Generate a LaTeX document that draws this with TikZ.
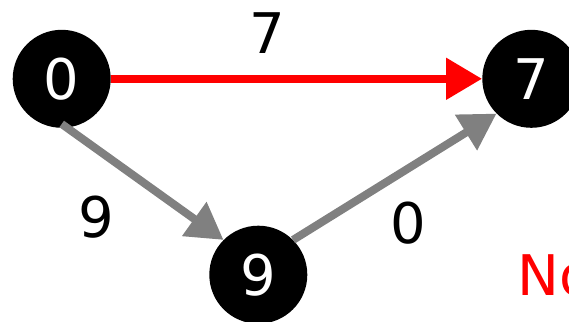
\documentclass[tikz,border=0pt]{standalone}
\usepackage{fontspec}
\setmainfont{DejaVu Sans}
\usepackage{tikz}
\usetikzlibrary{arrows.meta, positioning}
\definecolor{myred}{RGB}{255,0,0}
\definecolor{mygray}{RGB}{128,128,128}
\tikzset{
  vertex/.style={circle, fill=black, text=white, minimum size=98pt,
    inner sep=0pt, font=\fontsize{56}{60}\selectfont},
  wlabel/.style={inner sep=0pt, font=\fontsize{56}{60}\selectfont},
  arrow/.style={-{Triangle[length=36pt, width=40pt]}, line width=8pt, color=mygray},
  redarrow/.style={-{Triangle[length=36pt, width=40pt]}, line width=8pt, color=myred}
}
\begin{document}
\begin{tikzpicture}[x=1pt, y=1pt]
  \useasboundingbox (0,0) rectangle (569,321);

  % Vertices
  \node[vertex] (v0) at (61.7,242.2) {0};
  \node[vertex] (v7) at (531.3,242.2) {7};
  \node[vertex] (v9) at (258.3,46.3) {9};

  % Connections
  \draw[redarrow] (v0.east) -- (v7.west);
  \draw[arrow] ([yshift=4pt]v0.south) -- (v9.north west);
  \draw[arrow] (v9.north east) -- (v7.south west);

  % Weights
  \node[wlabel] (w07) at (267.6,287.7) {7};
  \node[wlabel] (w09) at (96.7,104) {9};
  \node[wlabel] (w97) at (408,98) {0};

  \node[wlabel, anchor=west, text=myred] (msg) at (517,46) {No};
\end{tikzpicture}
\end{document}
